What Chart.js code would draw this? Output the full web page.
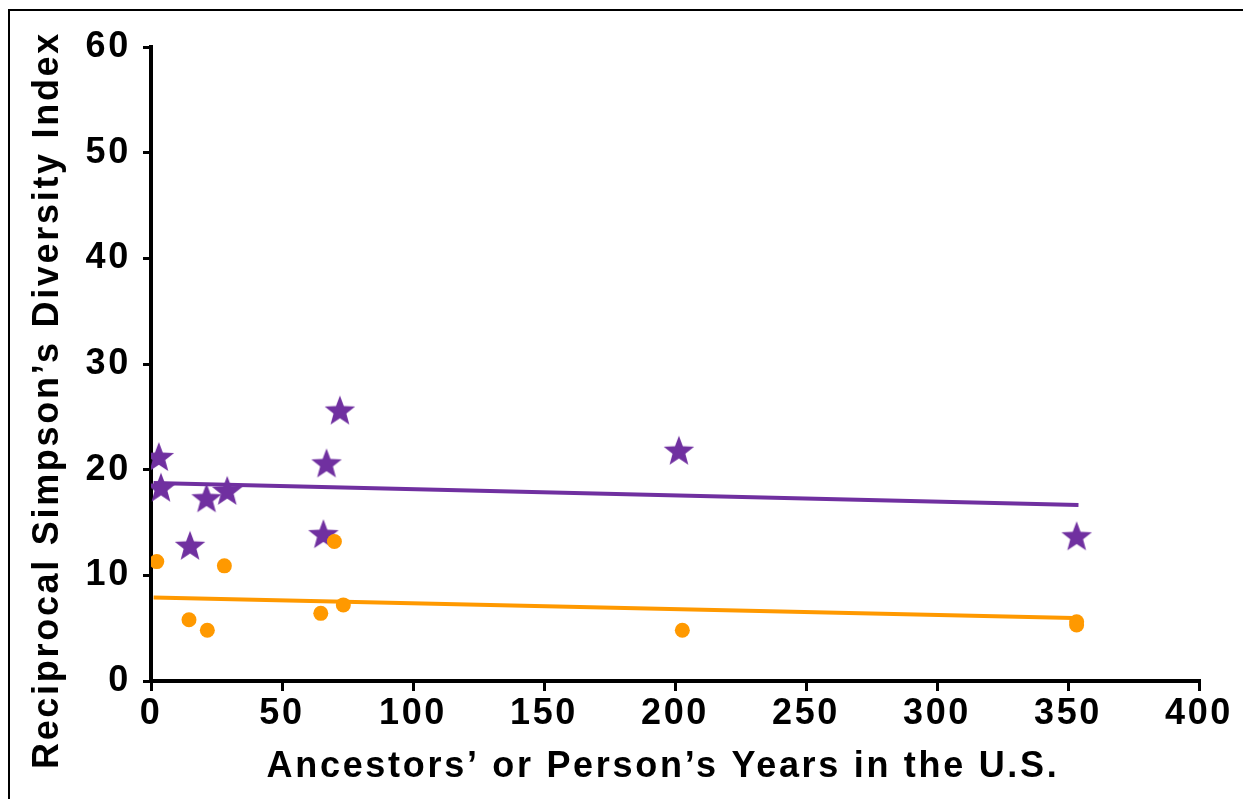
<!DOCTYPE html>
<html>
<head>
<meta charset="utf-8">
<script src="https://cdn.jsdelivr.net/npm/chart.js@4.4.1/dist/chart.umd.min.js"></script>
<style>
  html, body { margin: 0; padding: 0; background: #fff; overflow: hidden; }
  #wrap { position: relative; width: 1243px; height: 799px; }
  #frame { position: absolute; left: 8px; top: 9px; width: 1300px; height: 900px; border: 2px solid #000; box-sizing: border-box; pointer-events: none; }
  canvas { position: absolute; left: 0; top: 0; }
</style>
</head>
<body>
<div id="wrap">
  <canvas id="c" width="1243" height="799"></canvas>
  <div id="frame"></div>
</div>
<script>
// ---- data ----
const xTicks = [0, 50, 100, 150, 200, 250, 300, 350, 400];
const yTicks = [0, 10, 20, 30, 40, 50, 60];

const starYears  = [3.0, 3.8, 21.2, 29.1, 14.9, 67.0, 65.8, 72.1, 201.5, 353.3];
const starIndex  = [21.1, 18.2, 17.2, 17.9, 12.7, 20.5, 13.8, 25.5, 21.7, 13.6];

const dotYears   = [2.2, 28.0, 14.5, 21.5, 70.0, 64.8, 73.4, 202.8, 353.3, 353.3];
const dotIndex   = [11.3, 10.9, 5.8, 4.8, 13.2, 6.4, 7.2, 4.8, 5.3, 5.6];

const starTrendX = [1, 354];
const starTrendY = [18.74, 16.66];
const dotTrendX  = [1, 352];
const dotTrendY  = [7.9, 5.97];

const xTitle = "Ancestors\u2019 or Person\u2019s Years in the U.S.";
const yTitle = "Reciprocal Simpson\u2019s Diversity Index";

// ---- styles ----
const PURPLE = '#7030A0';
const ORANGE = '#FF9900';
const FONT = "'Liberation Sans', Arial, sans-serif";

function makeStar(R, ratio, color) {
  const size = Math.ceil(2 * R + 4);
  const cv = document.createElement('canvas');
  cv.width = size; cv.height = size;
  const g = cv.getContext('2d');
  const cx = size / 2, cy = size / 2;
  g.beginPath();
  for (let i = 0; i < 10; i++) {
    const r = i % 2 === 0 ? R : R * ratio;
    const a = -Math.PI / 2 + i * Math.PI / 5;
    const px = cx + r * Math.cos(a), py = cy + r * Math.sin(a);
    if (i === 0) g.moveTo(px, py); else g.lineTo(px, py);
  }
  g.closePath();
  g.fillStyle = color;
  g.fill();
  return cv;
}
const starImg = makeStar(16, 0.42, PURPLE);

const zip = (xs, ys) => xs.map((x, i) => ({ x: x, y: ys[i] }));

const SPACING = '2.7px';
const Y_TITLE_CENTER = 400;
const X_TITLE_CENTER = 663;
const spacingPlugin = {
  id: 'spacing',
  beforeUpdate(chart) { chart.ctx.letterSpacing = SPACING; },
  beforeLayout(chart) { chart.ctx.letterSpacing = SPACING; },
  beforeDraw(chart) { chart.ctx.letterSpacing = SPACING; },
  afterLayout(chart) {
    // draw the axis titles centred where the reference places them,
    // without touching the axis lines themselves
    const ys = chart.scales.y;
    if (!ys._origDrawTitle) {
      ys._origDrawTitle = ys.drawTitle;
      ys.drawTitle = function () {
        const b = this.bottom;
        this.bottom = this.top + 2 * (Y_TITLE_CENTER - this.top);
        this._origDrawTitle();
        this.bottom = b;
      };
    }
    const xs = chart.scales.x;
    if (!xs._origDrawTitle) {
      xs._origDrawTitle = xs.drawTitle;
      xs.drawTitle = function () {
        const r = this.right;
        this.right = this.left + 2 * (X_TITLE_CENTER - this.left);
        this._origDrawTitle();
        this.right = r;
      };
    }
  }
};

new Chart(document.getElementById('c'), {
  type: 'scatter',
  data: {
    datasets: [
      {
        label: 'dots',
        data: zip(dotYears, dotIndex),
        backgroundColor: ORANGE,
        borderColor: ORANGE,
        pointRadius: 7.5,
        pointBorderWidth: 0,
        pointStyle: 'circle',
        order: 1
      },
      {
        label: 'stars',
        data: zip(starYears, starIndex),
        pointStyle: starImg,
        order: 2
      },
      {
        type: 'line',
        label: 'dot trend',
        data: zip(dotTrendX, dotTrendY),
        borderColor: ORANGE,
        borderWidth: 4,
        pointRadius: 0,
        fill: false,
        order: 3
      },
      {
        type: 'line',
        label: 'star trend',
        data: zip(starTrendX, starTrendY),
        borderColor: PURPLE,
        borderWidth: 4,
        pointRadius: 0,
        fill: false,
        order: 4
      }
    ]
  },
  options: {
    responsive: false,
    animation: false,
    events: [],
    layout: { padding: { left: 0, top: 47, right: 44, bottom: 0 } },
    plugins: { legend: { display: false }, tooltip: { enabled: false } },
    scales: {
      x: {
        type: 'linear',
        min: 0, max: 400,
        afterBuildTicks(s) { s.ticks = xTicks.map(v => ({ value: v })); },
        afterFit(s) { s.height = 118; },
        border: { display: true, color: '#000', width: 4 },
        grid: { display: true, drawOnChartArea: false, drawTicks: true, tickLength: 10, lineWidth: 3, color: '#000' },
        ticks: { color: '#000', padding: 1, maxRotation: 0, font: { family: FONT, size: 36, weight: 'bold' } },
        title: { display: true, text: xTitle, color: '#000', padding: { top: 0, bottom: 10 }, font: { family: FONT, size: 36, weight: 'bold' } }
      },
      y: {
        type: 'linear',
        min: 0, max: 60,
        afterBuildTicks(s) { s.ticks = yTicks.map(v => ({ value: v })); },
        afterFit(s) { s.width = 151; },
        border: { display: true, color: '#000', width: 4 },
        grid: { display: true, drawOnChartArea: false, drawTicks: true, tickLength: 8, lineWidth: 3, color: '#000' },
        ticks: { color: '#000', padding: 12, font: { family: FONT, size: 36, weight: 'bold' } },
        title: { display: true, text: yTitle, color: '#000', padding: { top: 26, bottom: 0 }, font: { family: FONT, size: 36, weight: 'bold' } }
      }
    }
  },
  plugins: [spacingPlugin]
});
</script>
</body>
</html>
